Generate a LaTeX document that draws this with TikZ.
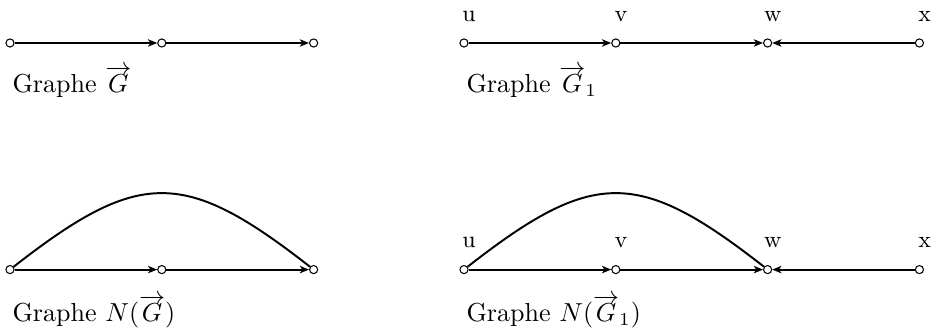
\documentclass[tikz,border=0pt]{standalone}
\usepackage{amsmath}
\usetikzlibrary{arrows.meta,positioning}

\begin{document}
\begin{tikzpicture}[
    x=0.0135cm,y=-0.0135cm,
    node distance=2.05cm and 2.05cm,on grid,
    vertex/.style={circle,draw,fill=white,inner sep=0pt,minimum size=0.11cm,line width=0.4pt},
    arrow/.style={-{Stealth[length=1.25mm,width=1mm,inset=0.35mm]},line width=0.75pt},
    arc/.style={line width=0.75pt},
    lbl/.style={font=\small,inner sep=0pt},
    title/.style={anchor=base west,inner sep=0pt}
  ]
    \useasboundingbox (0,0) rectangle (934,329);

    % graphe G
    \node[vertex] (ga) at (10,43) {};
    \node[vertex,right=of ga] (gb) {};
    \node[vertex,right=of gb] (gc) {};
    \node[title] (tg) at (12,93) {Graphe $\overrightarrow{G}$};

    % graphe G1
    \node[vertex] (u1) at (464,43) {};
    \node[vertex,right=of u1] (v1) {};
    \node[vertex,right=of v1] (w1) {};
    \node[vertex,right=of w1] (x1) {};
    \node[lbl,above right=0.36cm and 0.07cm of u1] (lu1) {u};
    \node[lbl,above right=0.36cm and 0.07cm of v1] (lv1) {v};
    \node[lbl,above right=0.36cm and 0.07cm of w1] (lw1) {w};
    \node[lbl,above right=0.36cm and 0.07cm of x1] (lx1) {x};
    \node[title] (tg1) at (466,93) {Graphe $\overrightarrow{G}_1$};

    % graphe N(G)
    \node[vertex,below=3.06cm of ga] (na) {};
    \node[vertex,right=of na] (nb) {};
    \node[vertex,right=of nb] (nc) {};
    \node[title] (tn) at (12,322) {Graphe $N(\overrightarrow{G})$};

    % graphe N(G1)
    \node[vertex,below=3.06cm of u1] (u2) {};
    \node[vertex,right=of u2] (v2) {};
    \node[vertex,right=of v2] (w2) {};
    \node[vertex,right=of w2] (x2) {};
    \node[lbl,above right=0.36cm and 0.07cm of u2] (lu2) {u};
    \node[lbl,above right=0.36cm and 0.07cm of v2] (lv2) {v};
    \node[lbl,above right=0.36cm and 0.07cm of w2] (lw2) {w};
    \node[lbl,above right=0.36cm and 0.07cm of x2] (lx2) {x};
    \node[title] (tn1) at (466,322) {Graphe $N(\overrightarrow{G}_1)$};

    \draw[arrow] (ga) -- (gb);
    \draw[arrow] (gb) -- (gc);

    \draw[arrow] (u1) -- (v1);
    \draw[arrow] (v1) -- (w1);
    \draw[arrow] (x1) -- (w1);

    \draw[arrow] (na) -- (nb);
    \draw[arrow] (nb) -- (nc);
    \draw[arc] (na) to[out=38,in=142,looseness=1.38] (nc);

    \draw[arrow] (u2) -- (v2);
    \draw[arrow] (v2) -- (w2);
    \draw[arrow] (x2) -- (w2);
    \draw[arc] (u2) to[out=38,in=142,looseness=1.38] (w2);
  \end{tikzpicture}
\end{document}
